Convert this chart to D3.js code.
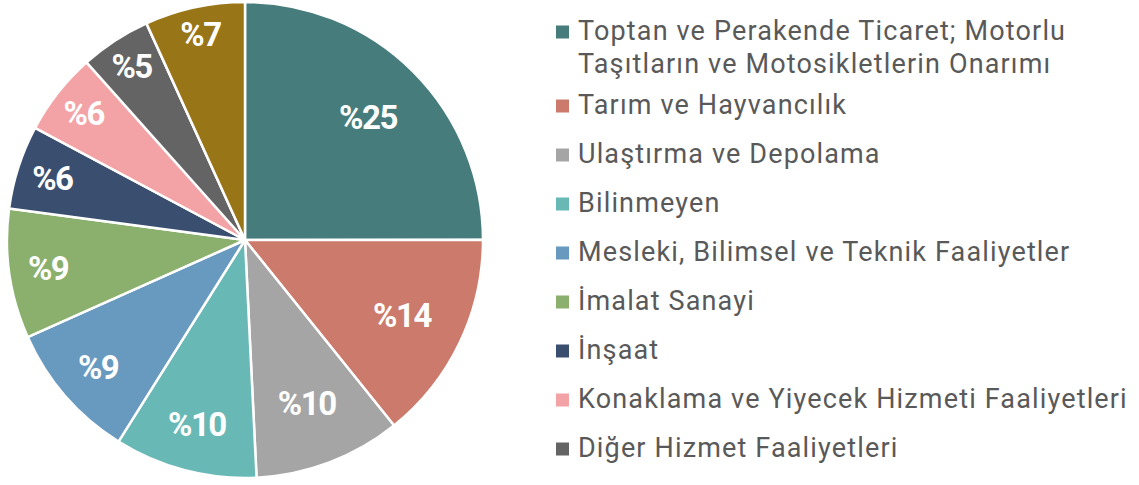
<!DOCTYPE html>
<html>
<head>
<meta charset="utf-8">
<script src="https://cdn.jsdelivr.net/npm/d3@7"></script>
<style>
  body { margin: 0; background: #fff; }
  text { font-family: Roboto, "Noto Sans", sans-serif; }
</style>
</head>
<body>
<div id="chart"></div>
<script>

// sector shares (%), clockwise from 12 o'clock
var sectors = ['Toptan ve Perakende Ticaret; Motorlu Taşıtların ve Motosikletlerin Onarımı',
  'Tarım ve Hayvancılık', 'Ulaştırma ve Depolama', 'Bilinmeyen',
  'Mesleki, Bilimsel ve Teknik Faaliyetler', 'İmalat Sanayi', 'İnşaat',
  'Konaklama ve Yiyecek Hizmeti Faaliyetleri', 'Diğer Hizmet Faaliyetleri', 'Diğer'];
var shares = [25, 14.25, 10, 9.7, 9.4, 8.8, 5.7, 5.6, 4.8, 6.8];
var colors = ['#467c7b', '#cb7a6b', '#a5a5a5', '#68b9b6', '#6899bf',
  '#8baf6c', '#3a4f70', '#f3a3a5', '#646464', '#987517'];

// legend lines (the last slice has no legend entry)
var legendLines = [
  ['Toptan ve Perakende Ticaret; Motorlu', 'Taşıtların ve Motosikletlerin Onarımı'],
  ['Tarım ve Hayvancılık'], ['Ulaştırma ve Depolama'], ['Bilinmeyen'],
  ['Mesleki, Bilimsel ve Teknik Faaliyetler'], ['İmalat Sanayi'], ['İnşaat'],
  ['Konaklama ve Yiyecek Hizmeti Faaliyetleri'], ['Diğer Hizmet Faaliyetleri']
];

var width = 1139, height = 485;
var cx = 245, cy = 240, radius = 238;

var svg = d3.select('#chart').append('svg')
  .attr('width', width)
  .attr('height', height);

var data = shares.map(function(v, i) {
  return {name: sectors[i], value: v, color: colors[i]};
});

var pie = d3.pie().sort(null).value(function(d) { return d.value; });
var arc = d3.arc().innerRadius(0).outerRadius(radius);

var g = svg.append('g').attr('transform', 'translate(' + cx + ',' + cy + ')');

var arcs = pie(data);

g.selectAll('path.slice')
  .data(arcs)
  .enter()
  .append('path')
  .attr('class', 'slice')
  .attr('d', arc)
  .attr('fill', function(d) { return d.data.color; })
  .attr('stroke', '#fff')
  .attr('stroke-width', 2.5)
  .attr('stroke-linejoin', 'round');

// right half labels sit further in, left half ones drift outward
function labelRadius(a) {
  if (a < Math.PI) return 174;
  return 188 + 24 * (a - Math.PI) / Math.PI;
}

g.selectAll('text.pct')
  .data(arcs)
  .enter()
  .append('text')
  .attr('class', 'pct')
  .attr('transform', function(d) {
    var a = (d.startAngle + d.endAngle) / 2;
    var r = labelRadius(a);
    return 'translate(' + (Math.sin(a) * r) + ',' + (-Math.cos(a) * r) + ')';
  })
  .attr('text-anchor', 'middle')
  .attr('dy', '0.36em')
  .attr('fill', '#fff')
  .style('font-weight', 'bold')
  .style('font-size', '33px')
  .style('letter-spacing', '-1.5px')
  .text(function(d) { return '%' + Math.round(d.data.value); });

// legend
var legend = svg.append('g').attr('class', 'legend');
var y = 40;
legendLines.forEach(function(lines, i) {
  legend.append('rect')
    .attr('x', 556)
    .attr('y', y - 14.5)
    .attr('width', 13)
    .attr('height', 13)
    .attr('fill', colors[i]);
  lines.forEach(function(t, j) {
    legend.append('text')
      .attr('x', 578)
      .attr('y', y + j * 33)
      .attr('fill', '#595959')
      .style('font-size', '27px')
      .style('letter-spacing', '1.15px')
      .text(t);
  });
  y += 49 + (lines.length - 1) * 25;
});

</script>
</body>
</html>
